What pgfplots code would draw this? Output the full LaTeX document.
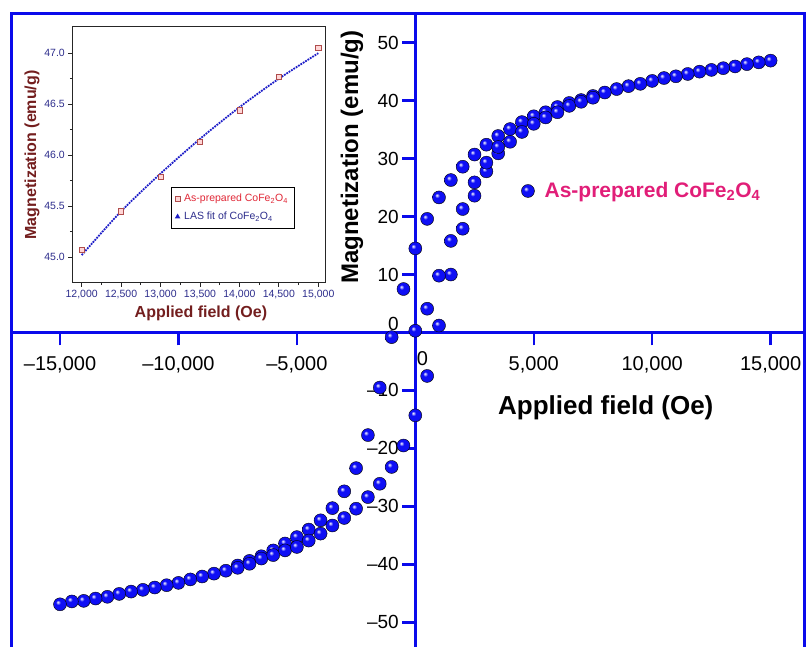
\documentclass[border=0pt]{standalone}
\usepackage{fontspec}
\setmainfont{Liberation Sans}
\usepackage{pgfplots}
\pgfplotsset{compat=1.18}
\definecolor{frameblue}{RGB}{10,10,235}
\definecolor{ballblue}{RGB}{15,15,245}
\definecolor{legpink}{RGB}{225,30,120}
\definecolor{insetred}{RGB}{115,30,30}
\definecolor{insetnavy}{RGB}{45,45,140}
\definecolor{asred}{RGB}{225,40,55}
\definecolor{fitblue}{RGB}{30,30,200}

% brighter ball shading than the tikz default
\makeatletter
\pgfdeclareradialshading[tikz@ball]{ball}{\pgfqpoint{-9bp}{9bp}}{%
  color(0bp)=(tikz@ball!10!white); color(3bp)=(tikz@ball!30!white);
  color(9bp)=(tikz@ball); color(24bp)=(tikz@ball);
  color(32bp)=(tikz@ball!60!black); color(50bp)=(tikz@ball!60!black)}
\makeatother

\begin{document}
\begin{tikzpicture}
% page = 806 x 647, main axis box starts 11pt from the left edge
\useasboundingbox (-11pt,0pt) rectangle (795pt,647pt);

\begin{axis}[
    name=main,
    at={(0pt,0pt)}, anchor=south west,
    scale only axis,
    width=793pt, height=633pt,
    xmin=-17070, xmax=16410,
    ymin=-54.26, ymax=54.95,
    clip=false,
    scaled ticks=false,
    axis lines=middle,
    axis line style={frameblue, line width=3pt, -},
    hide obscured x ticks=false, hide obscured y ticks=false,
    xtick={-15000,-10000,-5000,5000,10000,15000},
    xticklabels={{–15,000},{–10,000},{–5,000},{5,000},{10,000},{15,000}},
    minor x tick num=1,
    ytick={-50,-40,-30,-20,-10,10,20,30,40,50},
    yticklabels={–50,–40,–30,–20,–10,10,20,30,40,50},
    minor y tick num=1,
    extra x ticks={0}, extra x tick labels={0},
    extra x tick style={xticklabel style={xshift=7pt, yshift=5pt}},
    extra y ticks={0}, extra y tick labels={0},
    extra y tick style={yticklabel style={yshift=9pt}},
    tick align=outside,
    major tick length=13pt, minor tick length=7pt,
    tick style={frameblue, line width=2.5pt},
    x tick label style={font=\fontsize{20}{24}\selectfont, yshift=-8pt},
    y tick label style={font=\fontsize{19}{23}\selectfont},
    xlabel={Applied field (Oe)},
    xlabel style={at={(axis description cs:0.750,0.378)}, anchor=center,
        font=\fontsize{26}{30}\selectfont\bfseries},
    ylabel={Magnetization (emu/g)},
    ylabel style={at={(axis description cs:0.430,0.774)}, anchor=center,
        rotate=90, font=\fontsize{24}{28}\selectfont\bfseries},
    legend style={at={(axis description cs:0.6394,0.7204)}, anchor=west,
        draw=none, fill=none, text=legpink, column sep=8pt,
        font=\fontsize{21}{25}\selectfont\bfseries},
    ]

    % descending branch, +15000 -> -15000
    \addplot[only marks, mark=ball, mark size=6.5pt, mark options={ball color=ballblue}]
    coordinates {
        (15000,46.9) (14500,46.6) (14000,46.3) (13500,45.9) (13000,45.6)
        (12500,45.3) (12000,45.0) (11500,44.6) (11000,44.2) (10500,43.9)
        (10000,43.4) (9500,42.9) (9000,42.5) (8500,42.0) (8000,41.4)
        (7500,40.8) (7000,40.1) (6500,39.6) (6000,38.9) (5500,38.0)
        (5000,37.3) (4500,36.3) (4000,35.1) (3500,33.9) (3000,32.4)
        (2500,30.7) (2000,28.6) (1500,26.3) (1000,23.3) (500,19.6)
        (0,14.5) (-500,7.5) (-1000,-0.8) (-1500,-9.5) (-2000,-17.7)
        (-2500,-23.4) (-3000,-27.4) (-3500,-30.3) (-4000,-32.4) (-4500,-34.0)
        (-5000,-35.3) (-5500,-36.4) (-6000,-37.6) (-6500,-38.6) (-7000,-39.4)
        (-7500,-40.2) (-8000,-41.1) (-8500,-41.6) (-9000,-42.1) (-9500,-42.6)
        (-10000,-43.2) (-10500,-43.6) (-11000,-44.0) (-11500,-44.4) (-12000,-44.7)
        (-12500,-45.1) (-13000,-45.6) (-13500,-45.9) (-14000,-46.3) (-14500,-46.4)
        (-15000,-46.9)
    };
    \addlegendentry{As-prepared CoFe\textsubscript{2}O\textsubscript{4}}

    % ascending branch
    \addplot[only marks, mark=ball, mark size=6.5pt, mark options={ball color=ballblue}, forget plot]
    coordinates {
        (-7500,-40.6) (-7000,-39.9) (-6500,-39.0) (-6000,-38.4) (-5500,-37.6)
        (-5000,-37.0) (-4500,-35.9) (-4000,-34.7) (-3500,-33.3) (-3000,-32.0)
        (-2500,-30.4) (-2000,-28.4) (-1500,-26.1) (-1000,-23.2) (-500,-19.5)
        (0,-14.3) (500,-7.5) (1000,1.2) (1500,10.0) (2000,17.9)
        (2500,23.6) (3000,27.8) (3500,30.9) (4000,32.9) (4500,34.6)
        (5000,36.0) (5500,37.1) (6000,38.0) (6500,39.1) (7000,39.8)
        (7500,40.5)
    };

    % initial magnetization
    \addplot[only marks, mark=ball, mark size=6.5pt, mark options={ball color=ballblue}, forget plot]
    coordinates {
        (0,0.3) (500,4.1) (1000,9.8) (1500,15.8) (2000,21.3)
        (2500,25.9) (3000,29.3) (3500,32.0)
    };

    % frame
    \draw[frameblue, line width=3pt] (rel axis cs:0,-0.05) -- (rel axis cs:0,1)
        -- (rel axis cs:1,1) -- (rel axis cs:1,-0.05);
\end{axis}

% inset
\begin{axis}[
    at={(61.3pt,364.3pt)}, anchor=south west,
    scale only axis,
    width=252.7pt, height=256pt,
    xmin=11881, xmax=15085,
    ymin=44.75, ymax=47.26,
    scaled ticks=false,
    axis line style={black!85, line width=0.8pt},
    tick pos=left,
    tick align=outside,
    major tick length=4pt, minor tick length=2.5pt,
    tick style={black!85, line width=0.8pt},
    xtick={12000,12500,13000,13500,14000,14500,15000},
    xticklabels={{12,000},{12,500},{13,000},{13,500},{14,000},{14,500},{15,000}},
    minor x tick num=1,
    ytick={45,45.5,46,46.5,47},
    yticklabels={45.0,45.5,46.0,46.5,47.0},
    minor y tick num=1,
    tick label style={font=\fontsize{10.5}{12}\selectfont, text=insetnavy},
    xlabel={Applied field (Oe)},
    ylabel={Magnetization (emu/g)},
    xlabel style={at={(axis description cs:0.509,-0.118)}, anchor=center},
    ylabel style={at={(axis description cs:-0.159,0.499)}, anchor=center, rotate=0},
    label style={font=\fontsize{16}{19}\selectfont\bfseries, text=insetred},
    legend style={at={(0.389,0.375)}, anchor=north west,
        draw=black, line width=0.8pt, fill=white,
        font=\fontsize{10.5}{13}\selectfont, inner xsep=4pt, inner ysep=5pt,
        row sep=5pt, column sep=2pt},
    legend cell align=left,
    ]
    \addplot[only marks, mark=square*, mark size=2.6pt,
        mark options={fill=pink!65!white, draw=red!55!black!70!white, line width=0.5pt}]
    coordinates {
        (12000,45.07) (12500,45.45) (13000,45.79) (13500,46.13)
        (14000,46.44) (14500,46.77) (15000,47.05)
    };
    \addlegendentry{\textcolor{asred}{As-prepared CoFe\textsubscript{2}O\textsubscript{4}}}

    \addplot[fitblue, densely dotted, line width=1.8pt, smooth,
        legend image code/.code={\draw[fitblue, mark=triangle*, mark size=1.4pt,
            mark options={solid}] plot coordinates {(0.3cm,0cm)};}]
    coordinates {
        (12000,45.02) (12500,45.45) (13000,45.82) (13500,46.16)
        (14000,46.47) (14500,46.75) (15000,47.0)
    };
    \addlegendentry{\textcolor{insetnavy}{LAS fit of CoFe\textsubscript{2}O\textsubscript{4}}}
\end{axis}
\end{tikzpicture}
\end{document}
